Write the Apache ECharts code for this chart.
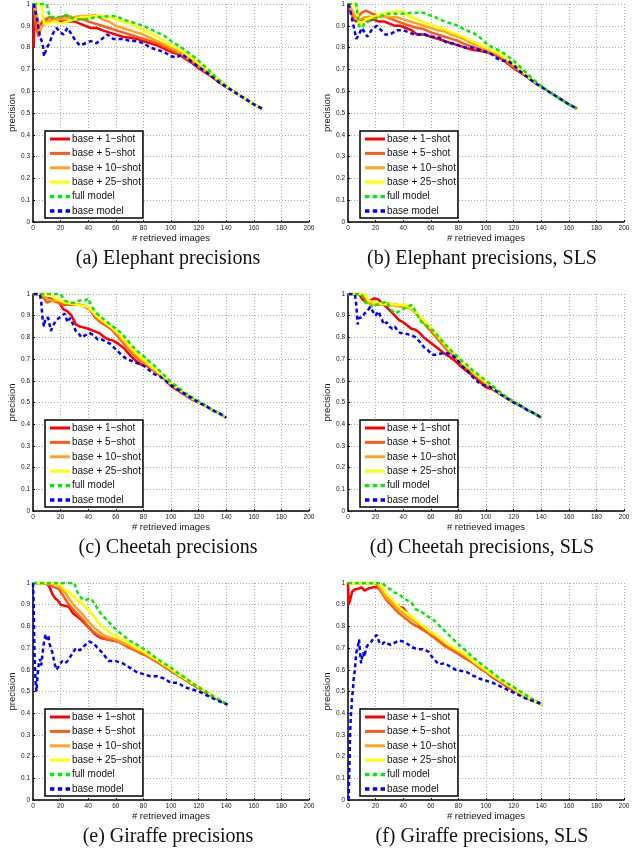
<!DOCTYPE html>
<html><head><meta charset="utf-8">
<script src="https://cdn.jsdelivr.net/npm/echarts@6/dist/echarts.min.js"></script>
<style>html,body{margin:0;padding:0;background:#fff}#c{width:635px;height:849px}</style>
</head><body><div id="c"></div>
<script>
// ---------- data ----------
const seriesNames = ['base + 1\u2212shot','base + 5\u2212shot','base + 10\u2212shot','base + 25\u2212shot','full model','base model'];
const captions = ['(a) Elephant precisions','(b) Elephant precisions, SLS','(c) Cheetah precisions','(d) Cheetah precisions, SLS','(e) Giraffe precisions','(f) Giraffe precisions, SLS'];
const xTicks = [0,20,40,60,80,100,120,140,160,180,200];
const yTicks = [0,0.1,0.2,0.3,0.4,0.5,0.6,0.7,0.8,0.9,1];

// (a) Elephant
const aShot1 = [[0.5,0.8],[1.5,1],[3,0.88],[5,0.9],[8,0.93],[12,0.92],[16,0.93],[20,0.92],[25,0.92],[30,0.92],[34,0.91],[38,0.9],[42,0.89],[46,0.89],[50,0.88],[55,0.87],[60,0.86],[65,0.85],[70,0.845],[75,0.84],[80,0.83],[85,0.82],[90,0.81],[95,0.795],[100,0.78],[105,0.77],[110,0.75],[115,0.73],[120,0.705],[125,0.685],[130,0.665],[135,0.64],[140,0.62],[145,0.6],[150,0.58],[155,0.56],[160,0.54],[166,0.52]];
const aShot5 = [[0.5,1],[2,0.9],[4,0.85],[6,0.9],[9,0.93],[12,0.94],[16,0.93],[20,0.94],[24,0.945],[28,0.94],[32,0.93],[36,0.93],[40,0.92],[45,0.91],[50,0.9],[55,0.89],[60,0.88],[65,0.87],[70,0.86],[75,0.85],[80,0.84],[85,0.83],[90,0.82],[95,0.805],[100,0.79],[105,0.775],[110,0.755],[115,0.735],[120,0.71],[125,0.69],[130,0.67],[135,0.645],[140,0.62],[145,0.6],[150,0.58],[155,0.56],[160,0.54],[166,0.52]];
const aShot10 = [[0.5,1],[3,0.95],[5,0.88],[7,0.9],[10,0.92],[15,0.925],[20,0.93],[25,0.935],[30,0.94],[35,0.945],[40,0.945],[45,0.95],[50,0.93],[55,0.92],[60,0.9],[65,0.89],[70,0.88],[75,0.87],[80,0.86],[85,0.845],[90,0.83],[95,0.815],[100,0.8],[105,0.785],[110,0.765],[115,0.745],[120,0.72],[125,0.695],[130,0.67],[135,0.645],[140,0.62],[145,0.6],[150,0.58],[155,0.56],[160,0.54],[166,0.52]];
const aShot25 = [[0.5,1],[6,1],[8,0.91],[12,0.91],[16,0.92],[20,0.91],[25,0.92],[30,0.93],[35,0.94],[40,0.94],[45,0.945],[50,0.945],[55,0.94],[60,0.93],[65,0.92],[70,0.91],[75,0.895],[80,0.88],[85,0.865],[90,0.85],[95,0.83],[100,0.81],[105,0.795],[110,0.775],[115,0.755],[120,0.73],[125,0.705],[130,0.675],[135,0.65],[140,0.625],[145,0.6],[150,0.58],[155,0.56],[160,0.54],[166,0.52]];
const aFull = [[0,1],[10,1],[12,0.94],[16,0.94],[20,0.94],[24,0.95],[28,0.935],[32,0.93],[36,0.93],[40,0.93],[45,0.94],[50,0.94],[55,0.945],[60,0.945],[65,0.93],[70,0.92],[75,0.91],[80,0.9],[85,0.885],[90,0.87],[95,0.855],[100,0.83],[105,0.81],[110,0.79],[115,0.765],[120,0.74],[125,0.71],[130,0.68],[135,0.65],[140,0.625],[145,0.6],[150,0.58],[155,0.56],[160,0.54],[166,0.52]];
const aBase = [[0.5,1],[3,0.93],[5,0.85],[7,0.82],[8,0.76],[10,0.8],[12,0.82],[14,0.86],[17,0.89],[20,0.87],[22,0.86],[25,0.89],[28,0.86],[31,0.83],[34,0.81],[38,0.82],[42,0.83],[46,0.82],[50,0.84],[54,0.86],[58,0.84],[62,0.84],[66,0.84],[70,0.83],[75,0.83],[80,0.82],[85,0.8],[90,0.79],[95,0.78],[100,0.76],[104,0.755],[108,0.77],[112,0.75],[116,0.73],[120,0.71],[125,0.69],[130,0.665],[135,0.64],[140,0.62],[145,0.6],[150,0.58],[155,0.56],[160,0.54],[166,0.52]];

// (b) Elephant, SLS
const bShot1 = [[0.5,1],[2,0.97],[4,0.93],[6,0.92],[10,0.93],[14,0.92],[18,0.93],[22,0.92],[26,0.92],[30,0.91],[34,0.9],[38,0.9],[42,0.89],[46,0.88],[50,0.86],[55,0.86],[60,0.85],[65,0.84],[70,0.83],[75,0.82],[80,0.81],[85,0.8],[90,0.79],[95,0.785],[100,0.78],[105,0.77],[110,0.755],[115,0.73],[120,0.705],[125,0.685],[130,0.665],[135,0.64],[140,0.62],[145,0.6],[150,0.58],[155,0.56],[160,0.54],[166,0.52]];
const bShot5 = [[0.5,1],[2,0.97],[4,0.93],[7,0.94],[10,0.96],[13,0.97],[16,0.96],[20,0.95],[24,0.945],[28,0.94],[32,0.93],[36,0.92],[40,0.91],[45,0.9],[50,0.89],[55,0.885],[60,0.87],[65,0.86],[70,0.85],[75,0.84],[80,0.83],[85,0.815],[90,0.805],[95,0.795],[100,0.785],[105,0.775],[110,0.76],[115,0.735],[120,0.71],[125,0.69],[130,0.665],[135,0.64],[140,0.62],[145,0.6],[150,0.58],[155,0.56],[160,0.54],[166,0.52]];
const bShot10 = [[0.5,1],[4,0.96],[6,0.93],[9,0.93],[12,0.94],[16,0.94],[20,0.94],[25,0.94],[30,0.94],[35,0.94],[40,0.93],[45,0.92],[50,0.91],[55,0.9],[60,0.89],[65,0.88],[70,0.875],[75,0.86],[80,0.85],[85,0.835],[90,0.82],[95,0.81],[100,0.795],[105,0.78],[110,0.765],[115,0.745],[120,0.72],[125,0.695],[130,0.67],[135,0.645],[140,0.62],[145,0.6],[150,0.58],[155,0.56],[160,0.54],[166,0.52]];
const bShot25 = [[0.5,1],[6,1],[8,0.9],[11,0.92],[14,0.93],[18,0.94],[22,0.95],[26,0.955],[30,0.96],[35,0.965],[38,0.97],[42,0.955],[46,0.94],[50,0.93],[55,0.915],[60,0.905],[65,0.895],[70,0.885],[75,0.87],[80,0.86],[85,0.845],[90,0.83],[95,0.815],[100,0.8],[105,0.785],[110,0.77],[115,0.75],[120,0.725],[125,0.7],[130,0.67],[135,0.645],[140,0.62],[145,0.6],[150,0.58],[155,0.56],[160,0.54],[166,0.52]];
const bFull = [[0,1],[6,1],[8,0.9],[10,0.89],[12,0.91],[15,0.92],[18,0.93],[22,0.94],[26,0.95],[30,0.955],[35,0.955],[40,0.955],[45,0.96],[50,0.96],[55,0.96],[58,0.95],[62,0.945],[66,0.93],[70,0.92],[75,0.91],[80,0.9],[85,0.88],[90,0.87],[95,0.85],[100,0.82],[105,0.8],[110,0.785],[115,0.765],[120,0.74],[125,0.71],[130,0.68],[135,0.65],[140,0.625],[145,0.6],[150,0.58],[155,0.56],[160,0.54],[166,0.52]];
const bBase = [[0.5,1],[2,0.96],[4,0.9],[6,0.84],[8,0.86],[10,0.89],[12,0.87],[14,0.85],[16,0.87],[18,0.89],[21,0.9],[24,0.88],[27,0.86],[30,0.86],[33,0.87],[36,0.88],[40,0.88],[44,0.87],[48,0.86],[52,0.86],[56,0.86],[60,0.85],[64,0.85],[68,0.84],[72,0.82],[76,0.82],[80,0.81],[85,0.8],[90,0.8],[95,0.79],[100,0.78],[104,0.77],[108,0.75],[112,0.74],[116,0.74],[120,0.72],[125,0.69],[130,0.665],[135,0.64],[140,0.62],[145,0.6],[150,0.58],[155,0.56],[160,0.54],[166,0.52]];

// (c) Cheetah
const cShot1 = [[0.5,1],[5,1],[8,0.98],[12,0.98],[16,0.97],[19,0.96],[22,0.93],[25,0.92],[28,0.9],[31,0.86],[34,0.85],[37,0.845],[40,0.84],[44,0.83],[48,0.82],[52,0.8],[55,0.79],[58,0.785],[62,0.77],[66,0.75],[70,0.72],[74,0.695],[78,0.675],[82,0.67],[86,0.655],[90,0.635],[95,0.61],[100,0.575],[105,0.555],[110,0.535],[115,0.515],[120,0.5],[125,0.485],[130,0.465],[135,0.45],[140,0.43]];
const cShot5 = [[0.5,1],[6,1],[8,0.98],[10,0.96],[14,0.97],[18,0.96],[22,0.95],[26,0.95],[30,0.95],[34,0.95],[38,0.94],[41,0.93],[44,0.9],[47,0.88],[50,0.865],[54,0.85],[58,0.83],[62,0.8],[66,0.77],[70,0.74],[74,0.715],[78,0.69],[82,0.675],[86,0.655],[90,0.635],[95,0.61],[100,0.58],[105,0.56],[110,0.54],[115,0.52],[120,0.5],[125,0.485],[130,0.465],[135,0.45],[140,0.43]];
const cShot10 = [[0.5,1],[6,1],[10,0.98],[14,0.97],[18,0.97],[22,0.96],[26,0.96],[30,0.955],[34,0.95],[38,0.945],[41,0.935],[44,0.91],[47,0.89],[50,0.875],[54,0.86],[58,0.84],[62,0.81],[66,0.78],[70,0.75],[74,0.725],[78,0.7],[82,0.68],[86,0.66],[90,0.64],[95,0.615],[100,0.585],[105,0.565],[110,0.54],[115,0.52],[120,0.5],[125,0.485],[130,0.465],[135,0.45],[140,0.43]];
const cShot25 = [[0.5,1],[12,1],[16,0.98],[20,0.97],[24,0.96],[28,0.955],[32,0.95],[36,0.945],[40,0.94],[43,0.92],[46,0.9],[50,0.88],[54,0.86],[58,0.84],[62,0.82],[66,0.79],[70,0.76],[74,0.735],[78,0.71],[82,0.69],[86,0.665],[90,0.645],[95,0.62],[100,0.59],[105,0.565],[110,0.545],[115,0.52],[120,0.5],[125,0.485],[130,0.465],[135,0.45],[140,0.43]];
const cFull = [[0,1],[20,1],[23,0.97],[26,0.96],[30,0.96],[34,0.97],[38,0.97],[40,0.98],[42,0.95],[45,0.92],[48,0.9],[52,0.88],[56,0.86],[60,0.84],[64,0.82],[68,0.79],[72,0.76],[76,0.735],[80,0.715],[84,0.69],[88,0.67],[92,0.645],[96,0.62],[100,0.595],[105,0.57],[110,0.545],[115,0.525],[120,0.505],[125,0.485],[130,0.465],[135,0.45],[140,0.43]];
const cBase = [[0.5,1],[5,1],[6,0.96],[7,0.88],[8,0.85],[9,0.89],[11,0.89],[12,0.86],[13,0.83],[15,0.86],[17,0.88],[19,0.89],[21,0.9],[23,0.91],[25,0.87],[27,0.89],[29,0.86],[31,0.83],[33,0.82],[35,0.8],[38,0.81],[41,0.82],[44,0.81],[47,0.79],[50,0.79],[53,0.78],[56,0.77],[60,0.745],[64,0.72],[68,0.7],[72,0.69],[76,0.68],[80,0.67],[84,0.65],[88,0.63],[92,0.62],[96,0.6],[100,0.58],[105,0.56],[110,0.54],[115,0.52],[120,0.5],[125,0.485],[130,0.465],[135,0.45],[140,0.43]];

// (d) Cheetah, SLS
const dShot1 = [[0.5,1],[8,1],[10,0.98],[13,0.96],[16,0.97],[19,0.98],[22,0.975],[25,0.955],[28,0.94],[31,0.92],[34,0.9],[37,0.88],[40,0.87],[43,0.855],[46,0.84],[49,0.835],[52,0.82],[55,0.8],[58,0.785],[62,0.765],[66,0.745],[70,0.725],[74,0.71],[78,0.69],[82,0.665],[86,0.645],[90,0.625],[95,0.6],[100,0.57],[105,0.56],[110,0.54],[115,0.52],[120,0.5],[125,0.485],[130,0.465],[135,0.45],[140,0.43]];
const dShot5 = [[0.5,1],[10,1],[13,0.97],[17,0.95],[21,0.95],[25,0.96],[30,0.955],[35,0.95],[40,0.945],[45,0.935],[48,0.92],[51,0.9],[54,0.875],[57,0.85],[60,0.83],[64,0.8],[68,0.77],[72,0.74],[76,0.72],[80,0.69],[84,0.67],[88,0.645],[92,0.625],[96,0.605],[100,0.585],[105,0.56],[110,0.54],[115,0.52],[120,0.5],[125,0.485],[130,0.465],[135,0.45],[140,0.43]];
const dShot10 = [[0.5,1],[12,1],[15,0.96],[19,0.95],[24,0.95],[30,0.95],[35,0.945],[40,0.94],[45,0.935],[48,0.92],[51,0.9],[54,0.88],[57,0.86],[60,0.84],[64,0.81],[68,0.78],[72,0.75],[76,0.725],[80,0.7],[84,0.675],[88,0.655],[92,0.63],[96,0.61],[100,0.59],[105,0.565],[110,0.545],[115,0.52],[120,0.5],[125,0.485],[130,0.465],[135,0.45],[140,0.43]];
const dShot25 = [[0.5,1],[12,1],[15,0.97],[19,0.96],[24,0.955],[30,0.955],[35,0.95],[40,0.95],[45,0.94],[48,0.925],[51,0.905],[54,0.885],[57,0.865],[60,0.845],[64,0.815],[68,0.785],[72,0.755],[76,0.73],[80,0.705],[84,0.68],[88,0.66],[92,0.635],[96,0.615],[100,0.595],[105,0.57],[110,0.545],[115,0.525],[120,0.505],[125,0.485],[130,0.465],[135,0.45],[140,0.43]];
const dFull = [[0,1],[10,1],[13,0.96],[16,0.94],[20,0.95],[24,0.955],[28,0.965],[31,0.93],[34,0.91],[37,0.92],[40,0.93],[43,0.94],[46,0.95],[49,0.92],[52,0.88],[55,0.86],[58,0.85],[62,0.83],[66,0.8],[70,0.77],[74,0.745],[78,0.72],[82,0.695],[86,0.675],[90,0.65],[95,0.625],[100,0.6],[105,0.575],[110,0.55],[115,0.525],[120,0.505],[125,0.485],[130,0.465],[135,0.45],[140,0.43]];
const dBase = [[0.5,1],[5,1],[6,0.95],[7,0.86],[8,0.89],[10,0.89],[12,0.91],[14,0.92],[16,0.94],[18,0.92],[20,0.9],[22,0.92],[24,0.89],[26,0.86],[28,0.87],[30,0.85],[32,0.84],[34,0.85],[36,0.83],[38,0.82],[40,0.82],[43,0.815],[46,0.81],[49,0.8],[52,0.78],[55,0.755],[58,0.74],[61,0.72],[64,0.72],[67,0.725],[70,0.73],[73,0.725],[76,0.715],[79,0.7],[82,0.67],[86,0.65],[90,0.62],[94,0.595],[98,0.58],[102,0.575],[106,0.56],[110,0.54],[115,0.52],[120,0.5],[125,0.485],[130,0.465],[135,0.45],[140,0.43]];

// (e) Giraffe
const eShot1 = [[0,1],[10,1],[12,0.98],[14,0.95],[16,0.93],[18,0.92],[20,0.9],[23,0.895],[26,0.89],[29,0.86],[32,0.845],[35,0.83],[38,0.81],[41,0.79],[44,0.77],[47,0.755],[50,0.745],[54,0.74],[58,0.735],[62,0.73],[66,0.72],[70,0.705],[74,0.695],[78,0.685],[82,0.67],[86,0.655],[90,0.64],[95,0.615],[100,0.595],[105,0.575],[110,0.555],[115,0.535],[120,0.515],[125,0.495],[130,0.478],[135,0.46],[141,0.44]];
const eShot5 = [[0,1],[8,1],[12,0.99],[16,0.98],[19,0.97],[22,0.94],[25,0.91],[28,0.885],[31,0.865],[34,0.845],[37,0.825],[40,0.8],[43,0.78],[46,0.765],[50,0.75],[54,0.74],[58,0.735],[62,0.73],[66,0.715],[70,0.7],[74,0.69],[78,0.675],[82,0.665],[86,0.65],[90,0.635],[95,0.615],[100,0.595],[105,0.575],[110,0.555],[115,0.535],[120,0.515],[125,0.495],[130,0.478],[135,0.46],[141,0.44]];
const eShot10 = [[0,1],[14,1],[18,0.99],[21,0.97],[24,0.95],[27,0.92],[30,0.895],[33,0.875],[36,0.855],[39,0.83],[42,0.81],[45,0.79],[48,0.775],[51,0.76],[55,0.75],[60,0.74],[65,0.725],[70,0.71],[75,0.695],[80,0.68],[85,0.66],[90,0.645],[95,0.62],[100,0.6],[105,0.58],[110,0.56],[115,0.54],[120,0.52],[125,0.5],[130,0.48],[135,0.46],[141,0.44]];
const eShot25 = [[0,1],[16,1],[20,0.99],[23,0.97],[26,0.96],[29,0.94],[32,0.92],[35,0.91],[38,0.89],[41,0.87],[44,0.85],[47,0.82],[50,0.8],[53,0.785],[56,0.77],[60,0.755],[65,0.74],[70,0.72],[75,0.7],[80,0.685],[85,0.665],[90,0.645],[95,0.625],[100,0.605],[105,0.58],[110,0.56],[115,0.54],[120,0.52],[125,0.5],[130,0.48],[135,0.46],[141,0.44]];
const eFull = [[0,1],[30,1],[32,0.96],[35,0.93],[38,0.92],[41,0.93],[43,0.92],[46,0.89],[49,0.86],[52,0.84],[55,0.82],[58,0.8],[61,0.78],[64,0.765],[67,0.75],[70,0.735],[74,0.72],[78,0.705],[82,0.69],[86,0.67],[90,0.65],[95,0.63],[100,0.61],[105,0.585],[110,0.565],[115,0.54],[120,0.52],[125,0.5],[130,0.48],[135,0.46],[141,0.44]];
const eBase = [[0,1],[0.5,0.9],[1,0.7],[1.5,0.6],[2,0.53],[2.5,0.5],[3,0.55],[4,0.62],[5,0.65],[6,0.62],[7,0.68],[8,0.73],[9,0.76],[10,0.74],[11,0.76],[12,0.72],[13,0.7],[14,0.68],[16,0.62],[17,0.6],[19,0.62],[21,0.64],[23,0.63],[25,0.64],[28,0.67],[31,0.7],[34,0.69],[37,0.71],[41,0.73],[44,0.72],[47,0.7],[50,0.68],[55,0.64],[60,0.64],[65,0.63],[70,0.61],[75,0.59],[80,0.58],[85,0.57],[90,0.57],[95,0.56],[100,0.54],[105,0.54],[110,0.52],[115,0.51],[120,0.5],[125,0.485],[130,0.47],[135,0.455],[141,0.44]];

// (f) Giraffe, SLS
const fShot1 = [[0,1],[0.5,0.9],[1.5,0.92],[3,0.96],[5,0.97],[8,0.975],[10,0.98],[12,0.965],[15,0.975],[18,0.98],[21,0.98],[23,0.97],[25,0.955],[28,0.94],[31,0.925],[34,0.905],[37,0.89],[40,0.885],[43,0.86],[46,0.845],[50,0.82],[54,0.79],[58,0.77],[62,0.755],[66,0.735],[70,0.715],[74,0.7],[78,0.685],[82,0.665],[86,0.65],[90,0.635],[95,0.61],[100,0.59],[105,0.565],[110,0.545],[115,0.525],[120,0.505],[125,0.49],[130,0.47],[135,0.455],[141,0.44]];
const fShot5 = [[0,1],[20,1],[22,0.98],[25,0.95],[28,0.92],[31,0.9],[34,0.88],[37,0.86],[40,0.845],[43,0.83],[46,0.815],[50,0.8],[54,0.785],[58,0.77],[62,0.75],[66,0.73],[70,0.71],[74,0.695],[78,0.68],[82,0.665],[86,0.65],[90,0.635],[95,0.61],[100,0.59],[105,0.57],[110,0.55],[115,0.53],[120,0.51],[125,0.49],[130,0.47],[135,0.455],[141,0.44]];
const fShot10 = [[0,1],[21,1],[24,0.97],[27,0.94],[30,0.92],[33,0.9],[36,0.88],[40,0.86],[44,0.84],[48,0.825],[52,0.81],[56,0.79],[60,0.77],[64,0.755],[68,0.735],[72,0.715],[76,0.7],[80,0.685],[85,0.665],[90,0.64],[95,0.615],[100,0.595],[105,0.57],[110,0.55],[115,0.53],[120,0.51],[125,0.49],[130,0.47],[135,0.455],[141,0.44]];
const fShot25 = [[0,1],[22,1],[25,0.98],[28,0.95],[31,0.93],[34,0.91],[37,0.89],[40,0.875],[44,0.855],[48,0.835],[52,0.815],[56,0.795],[60,0.775],[64,0.76],[68,0.74],[72,0.72],[76,0.705],[80,0.69],[85,0.67],[90,0.645],[95,0.62],[100,0.6],[105,0.575],[110,0.555],[115,0.535],[120,0.515],[125,0.495],[130,0.475],[135,0.455],[141,0.44]];
const fFull = [[0,1],[25,1],[28,0.98],[31,0.97],[34,0.955],[37,0.95],[40,0.93],[43,0.92],[46,0.91],[49,0.88],[52,0.87],[55,0.86],[58,0.845],[62,0.83],[66,0.805],[70,0.78],[74,0.755],[78,0.73],[82,0.705],[86,0.685],[90,0.66],[95,0.635],[100,0.61],[105,0.585],[110,0.56],[115,0.54],[120,0.52],[125,0.5],[130,0.48],[135,0.46],[141,0.44]];
const fBase = [[0.5,0],[1,0.15],[1.5,0.3],[2,0.38],[2.5,0.42],[3,0.48],[3.5,0.5],[4,0.55],[5,0.6],[5.5,0.64],[6,0.68],[7,0.7],[8,0.74],[9,0.66],[9.5,0.63],[10,0.65],[11,0.68],[12,0.66],[13,0.7],[15,0.72],[17,0.73],[19,0.75],[21,0.76],[23,0.72],[25,0.72],[27,0.73],[29,0.72],[31,0.715],[34,0.725],[37,0.735],[40,0.73],[43,0.72],[46,0.705],[50,0.695],[54,0.695],[58,0.685],[62,0.65],[66,0.625],[70,0.63],[74,0.615],[78,0.6],[82,0.595],[86,0.59],[90,0.575],[95,0.56],[100,0.55],[105,0.54],[110,0.525],[115,0.51],[120,0.495],[125,0.48],[130,0.465],[135,0.455],[141,0.44]];

const panels = [
  [aShot1,aShot5,aShot10,aShot25,aFull,aBase],
  [bShot1,bShot5,bShot10,bShot25,bFull,bBase],
  [cShot1,cShot5,cShot10,cShot25,cFull,cBase],
  [dShot1,dShot5,dShot10,dShot25,dFull,dBase],
  [eShot1,eShot5,eShot10,eShot25,eFull,eBase],
  [fShot1,fShot5,fShot10,fShot25,fFull,fBase]
];

// ---------- styles / layout ----------
const colors = ['#ff0000','#ff5a1e','#ffa41e','#ffff00','#00ee00','#0000ff'];
const dashed = [false,false,false,false,true,true];
const solidIcon = 'path://M0,0h20v3h-20z';
const dashIcon = 'path://M0,0h4v3h-4zM7,0h4v3h-4zM14,0h4v3h-4z';
const colLeft = [33,348];
const rowTop = [4,294,583];
const rowH = [218,217,217];
const plotW = 276;
const capX = [168,482];
const capY = [259,548,837];
const FONT = 'Liberation Sans';

const grids=[],xAxes=[],yAxes=[],series=[],legends=[],graphics=[];
for(let p=0;p<6;p++){
  const c=p%2, r=Math.floor(p/2);
  grids.push({left:colLeft[c],top:rowTop[r],width:plotW,height:rowH[r]});
  xAxes.push({type:'value',gridIndex:p,min:xTicks[0],max:xTicks[xTicks.length-1],interval:20,
    name:'# retrieved images',nameLocation:'middle',nameGap:10,
    nameTextStyle:{fontFamily:FONT,fontSize:9.5,color:'#111'},
    axisLine:{show:true,onZero:false,lineStyle:{color:'#000',width:1.5}},
    axisTick:{show:true,inside:true,length:2,lineStyle:{color:'#000'}},
    axisLabel:{fontFamily:FONT,fontSize:6.5,color:'#222',margin:3},
    splitLine:{show:true,lineStyle:{color:'#aaa',type:[1,2],width:1}}});
  yAxes.push({type:'value',gridIndex:p,min:yTicks[0],max:yTicks[yTicks.length-1],interval:0.1,
    name:'precision',nameLocation:'middle',nameGap:13,
    nameTextStyle:{fontFamily:FONT,fontSize:9.5,color:'#111'},
    axisLine:{show:true,onZero:false,lineStyle:{color:'#000',width:1.5}},
    axisTick:{show:true,inside:true,length:2,lineStyle:{color:'#000'}},
    axisLabel:{fontFamily:FONT,fontSize:6.5,color:'#222',margin:3},
    splitLine:{show:true,lineStyle:{color:'#aaa',type:[1,2],width:1}}});
  panels[p].forEach((d,i)=>{
    series.push({type:'line',name:seriesNames[i],xAxisIndex:p,yAxisIndex:p,data:d,
      showSymbol:false,symbol:'none',animation:false,clip:true,z:2+i,
      itemStyle:{color:colors[i]},
      lineStyle:{color:colors[i],width:2.5,type:dashed[i]?[4,3]:'solid'}});
  });
  legends.push({data:seriesNames.map((n,i)=>({name:n,icon:dashed[i]?dashIcon:solidIcon,itemStyle:{color:colors[i],borderWidth:0}})),
    orient:'vertical',left:colLeft[c]+12,
    top:rowTop[r]+rowH[r]-91,
    backgroundColor:'#fff',borderColor:'#000',borderWidth:1.5,borderRadius:0,
    padding:[3,2,2,5],itemGap:4.4,itemWidth:20,itemHeight:10,selectedMode:false,
    textStyle:{fontFamily:FONT,fontSize:10,color:'#111',lineHeight:10,width:63,overflow:'none',padding:[0,0,0,-3]}});
  graphics.push({type:'text',x:capX[c],y:capY[r],
    style:{text:captions[p],font:'20px "Liberation Serif"',fill:'#111',textAlign:'center',textVerticalAlign:'middle'}});
}

const chart = echarts.init(document.getElementById('c'),null,{renderer:'canvas'});
chart.setOption({animation:false,backgroundColor:'#fff',grid:grids,xAxis:xAxes,yAxis:yAxes,series:series,legend:legends,graphic:graphics});
</script></body></html>
